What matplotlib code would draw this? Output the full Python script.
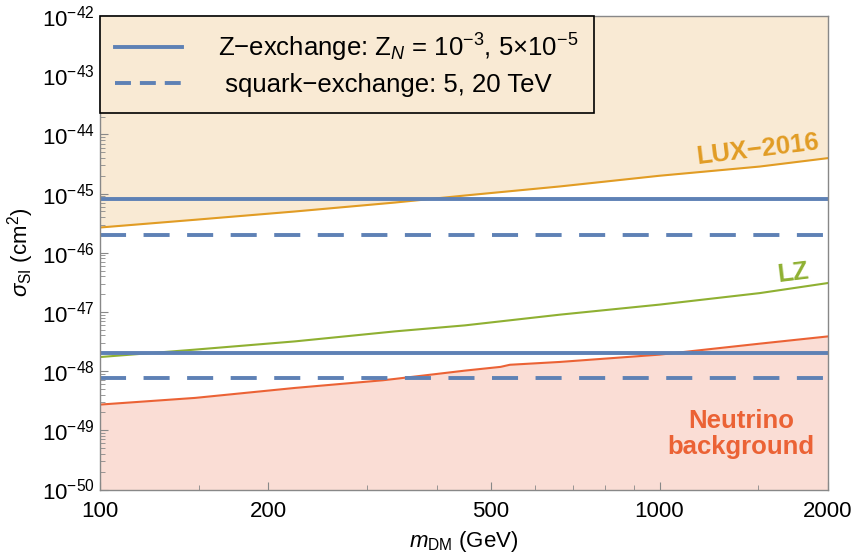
import numpy as np
import matplotlib.pyplot as plt
from matplotlib.lines import Line2D
from matplotlib.ticker import FixedLocator, NullFormatter, FuncFormatter

plt.rcParams['font.family'] = ['Liberation Sans', 'DejaVu Sans']
plt.rcParams['mathtext.fontset'] = 'custom'
plt.rcParams['mathtext.rm'] = 'Liberation Sans'
plt.rcParams['mathtext.it'] = 'Liberation Sans:italic'
plt.rcParams['mathtext.bf'] = 'Liberation Sans:bold'

# Experimental limits (GeV, cm^2)
lux_mass = [100, 148, 223, 337, 449, 664, 1000, 1510, 2000]
lux_sigma = [2.67e-46, 3.61e-46, 4.98e-46, 7.06e-46, 9.27e-46, 1.32e-45, 2.0e-45, 2.86e-45, 3.97e-45]

lz_mass = [100, 148, 223, 337, 449, 664, 1000, 1510, 2000]
lz_sigma = [1.73e-48, 2.31e-48, 3.18e-48, 4.70e-48, 5.93e-48, 9.0e-48, 1.33e-47, 2.08e-47, 3.08e-47]

nu_mass = [100, 148, 223, 320, 337, 449, 520, 540, 664, 1000, 1510, 2000]
nu_sigma = [2.72e-49, 3.53e-49, 5.2e-49, 7.0e-49, 7.4e-49, 1.02e-48, 1.18e-48, 1.28e-48,
            1.43e-48, 1.90e-48, 2.91e-48, 3.86e-48]

# Model predictions (constant in mass)
z_exchange = [8e-46, 2e-48]         # Z_N = 1e-3, 5e-5
squark_exchange = [2e-46, 7.8e-49]  # 5, 20 TeV

x_ticks = [100, 200, 500, 1000, 2000]
x_minor = [150, 300, 400, 600, 700, 800, 900, 1500]
y_decades = list(range(-50, -41))

xmin, xmax = 100, 2000
ymin, ymax = 1e-50, 1e-42

blue = '#5E81B5'
orange = '#E19C24'
green = '#8FB032'
red = '#EB6235'
lux_fill = '#F9EAD4'

fig = plt.figure(figsize=(8.53, 5.55), dpi=100)
ax = fig.add_axes([100 / 853, 1 - 489.5 / 555, 728 / 853, 473.5 / 555])

ax.fill_between(lux_mass, lux_sigma, ymax, color=lux_fill, lw=0)
ax.fill_between(nu_mass, ymin, nu_sigma, color='#FADDD5', lw=0)

ax.plot(lux_mass, lux_sigma, color=orange, lw=1.5)
ax.plot(lz_mass, lz_sigma, color=green, lw=1.5)
ax.plot(nu_mass, nu_sigma, color=red, lw=1.5)

for v in z_exchange:
    ax.plot([xmin, xmax], [v, v], color=blue, lw=2.8, solid_capstyle='butt')
for v in squark_exchange:
    ax.plot([xmin, xmax], [v, v], color=blue, lw=2.8, dashes=(6.7, 4.5))

ax.set_xscale('log')
ax.set_yscale('log')
ax.set_xlim(xmin, xmax)
ax.set_ylim(ymin, ymax)

ax.xaxis.set_major_locator(FixedLocator(x_ticks))
ax.xaxis.set_minor_locator(FixedLocator(x_minor))
ax.xaxis.set_major_formatter(FuncFormatter(lambda v, p: f'{v:.0f}'))
ax.xaxis.set_minor_formatter(NullFormatter())

ax.yaxis.set_major_locator(FixedLocator([10.0 ** d for d in y_decades]))
ax.yaxis.set_minor_locator(FixedLocator([k * 10.0 ** d for d in y_decades[:-1] for k in range(2, 10)]))
ax.yaxis.set_major_formatter(FuncFormatter(lambda v, p: r'$10^{%d}$' % round(np.log10(v))))
ax.yaxis.set_minor_formatter(NullFormatter())

ax.tick_params(which='both', direction='in', color='#888888', labelsize=16)
ax.tick_params(which='major', length=6, width=0.8)
ax.tick_params(which='minor', length=3.5, width=0.6)
ax.tick_params(axis='x', pad=8)
ax.tick_params(axis='y', pad=4)
for s in ax.spines.values():
    s.set_color('#888888')
    s.set_linewidth(1.0)

ax.set_xlabel(r'$m_{\rm DM}$ (GeV)', fontsize=16, labelpad=5)
ax.set_ylabel(r'$\sigma_{\rm SI}$ (cm$^2$)', fontsize=16, labelpad=4)

ax.text(0.903, 0.717, 'LUX\u22122016', transform=ax.transAxes, color=orange,
        fontsize=18.5, fontweight='bold', rotation=7, ha='center', va='center')
ax.text(0.952, 0.457, 'LZ', transform=ax.transAxes, color=green,
        fontsize=18.5, fontweight='bold', rotation=7, ha='center', va='center')
ax.text(0.8805, 0.1172, 'Neutrino\nbackground', transform=ax.transAxes, color=red,
        fontsize=18.5, fontweight='bold', ha='center', va='center', linespacing=1.12)

handles = [
    Line2D([], [], color=blue, lw=2.8),
    Line2D([], [], color=blue, lw=2.8, dashes=(4.1, 2.3)),
]
labels = [
    'Z\u2212exchange: Z$_{N}$ = 10$^{\u22123}$, 5\u00d710$^{\u22125}$',
    ' squark\u2212exchange: 5, 20 TeV',
]
leg = ax.legend(handles, labels, loc='upper left', bbox_to_anchor=(0, 1), borderaxespad=0,
                fontsize=18.5, frameon=True, fancybox=False, facecolor=lux_fill,
                framealpha=1, edgecolor='black', handlelength=2.6, handletextpad=1.4,
                borderpad=0.6, labelspacing=0.38)
leg.get_frame().set_linewidth(1.2)

fig.savefig('out.png', dpi=100)
